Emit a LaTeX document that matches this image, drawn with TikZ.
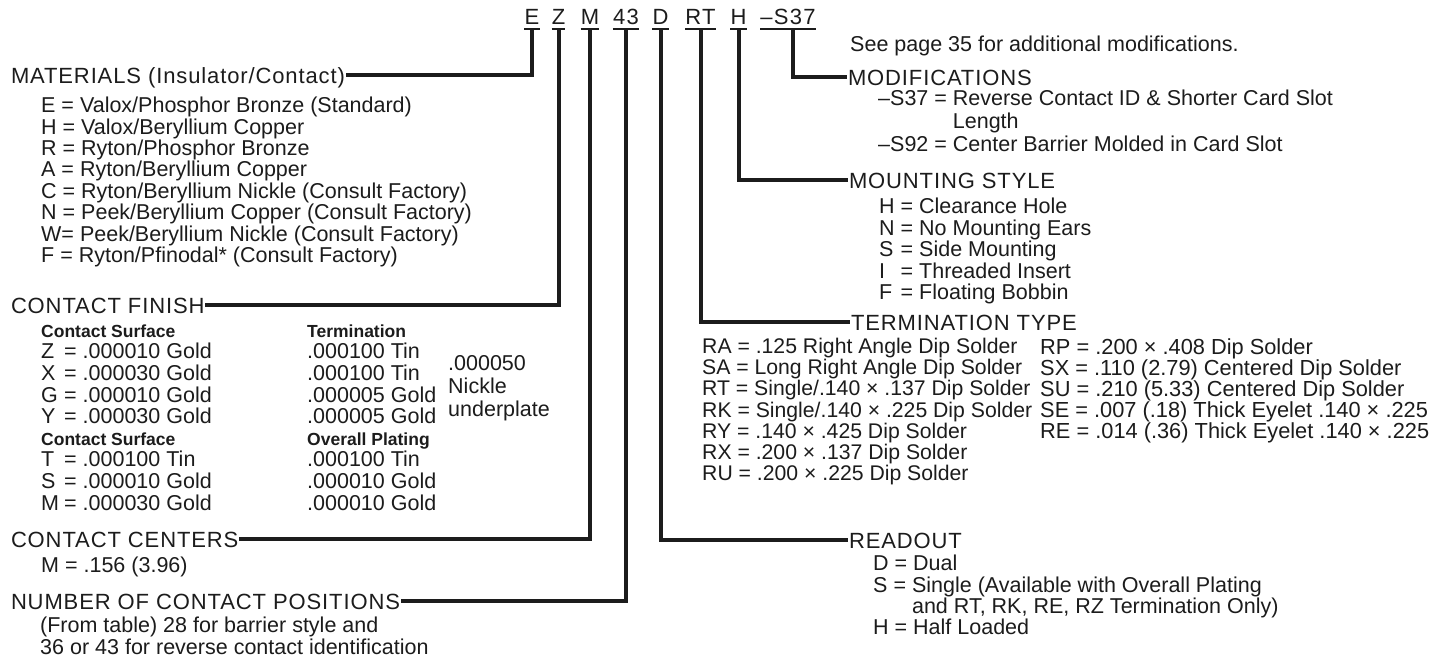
\documentclass[tikz,border=0pt]{standalone}
\usepackage{fontspec}
\setmainfont{Liberation Sans}
\usepackage{xcolor}
\usetikzlibrary{positioning}
\definecolor{ink}{HTML}{1C1C1C}
\newcommand{\codefont}{\fontsize{22}{22}\selectfont\addfontfeature{LetterSpace=6}}
\newcommand{\hdfont}{\fontsize{22}{22}\selectfont\addfontfeature{LetterSpace=4}}
\newcommand{\lsfont}{\fontsize{21.5}{21.4}\selectfont}
\newcommand{\subhd}[1]{{\fontsize{17.5}{21.6}\selectfont\bfseries #1}}
\newcommand{\ky}[2][17pt]{\makebox[#1][l]{#2}}

\begin{document}
\begin{tikzpicture}[x=1pt,y=-1pt,every node/.style={text=ink,inner sep=0pt},
   code/.style={font=\codefont,anchor=base,inner ysep=4pt,text height=15.5pt,text depth=0pt},
   head/.style={font=\hdfont,anchor=base west,text height=15.5pt,text depth=0pt,outer xsep=1pt},
   list/.style={font=\lsfont,align=left,anchor=north west},
   lead/.style={draw=ink,line width=4pt},
   uline/.style={draw=ink,line width=1.5pt}]
\useasboundingbox[fill=white] (0,0) rectangle (1443,661);
\node[code] (cE) at (532,25) {E};
\node[code] (cZ) at (558.5,25) {Z};
\node[code] (cM) at (590,25) {M};
\node[code] (c43) at (626,25) {43};
\node[code] (cD) at (660.5,25) {D};
\node[code] (cRT) at (700.5,25) {RT};
\node[code] (cH) at (738.5,25) {H};
\node[code] (cS) at (788,25) {--S37};
\foreach \n in {cE,cZ,cM,c43,cD,cRT,cH,cS} \draw[uline] (\n.south west) -- (\n.south east);
\node[font=\lsfont,anchor=base west] (see) at (850,52) {See page 35 for additional modifications.};
\node[head] (mat) at (10,83) {MATERIALS (Insulator/Contact)};
\node[head] (fin) at (10,313) {CONTACT FINISH};
\node[head] (ctr) at (10,547) {CONTACT CENTERS};
\node[head] (pos) at (10,609) {NUMBER OF CONTACT POSITIONS};
\node[head] (mod) at (847,85) {MODIFICATIONS};
\node[head] (mnt) at (848,188) {MOUNTING STYLE};
\node[head] (trm) at (850,330) {TERMINATION TYPE};
\node[head] (rdo) at (848,548) {READOUT};
\draw[lead] (cE.south) |- (mat.east);
\draw[lead] (cZ.south) |- (fin.east);
\draw[lead] (cM.south) |- (ctr.east);
\draw[lead] (c43.south) |- (pos.east);
\draw[lead] (cD.south) |- (rdo.west);
\draw[lead] (cRT.south) |- (trm.west);
\draw[lead] (cH.south) |- (mnt.west);
\draw[lead] ([xshift=5pt]cS.south) |- (mod.west);
\node[list] (matl) at (41,97) {E = Valox/Phosphor Bronze (Standard)\\ H = Valox/Beryllium Copper\\ R = Ryton/Phosphor Bronze\\ A = Ryton/Beryllium Copper\\ C = Ryton/Beryllium Nickle (Consult Factory)\\ N = Peek/Beryllium Copper (Consult Factory)\\ W= Peek/Beryllium Nickle (Consult Factory)\\ F = Ryton/Pfinodal* (Consult Factory)};
\node[list,font={\fontsize{21.5}{21.6}\selectfont}] (finl) at (41,324.5) {\subhd{Contact Surface}\\ \ky{Z} = .000010 Gold\\ \ky{X} = .000030 Gold\\ \ky{G} = .000010 Gold\\ \ky{Y} = .000030 Gold\\ \subhd{Contact Surface}\\ \ky{T} = .000100 Tin\\ \ky{S} = .000010 Gold\\ \ky{M} = .000030 Gold};
\node[list,font={\fontsize{21.5}{21.6}\selectfont}] (finr) at (307,324.5) {\subhd{Termination}\\ .000100 Tin\\ .000100 Tin\\ .000005 Gold\\ .000005 Gold\\ \subhd{Overall Plating}\\ .000100 Tin\\ .000010 Gold\\ .000010 Gold};
\node[list,font={\fontsize{21.5}{23}\selectfont}] (nick) at (448,355) {.000050\\ Nickle\\ underplate};
\node[list] (ctrl) at (41,557) {M = .156 (3.96)};
\node[list] (posl) at (40,617) {(From table) 28 for barrier style and\\ 36 or 43 for reverse contact identification};
\node[list,font={\fontsize{21.5}{23}\selectfont}] (modl) at (878,90) {--S37 = Reverse Contact ID \& Shorter Card Slot\\ \hphantom{--S37 = }Length\\ --S92 = Center Barrier Molded in Card Slot};
\node[list,font={\fontsize{21.5}{21.5}\selectfont}] (mntl) at (879,198) {\ky[15.5pt]{H} = Clearance Hole\\ \ky[15.5pt]{N} = No Mounting Ears\\ \ky[15.5pt]{S} = Side Mounting\\ \ky[15.5pt]{I} = Threaded Insert\\ \ky[15.5pt]{F} = Floating Bobbin};
\node[list,font={\fontsize{21.2}{21.2}\selectfont}] (trml) at (702,338) {RA = .125 Right Angle Dip Solder\\ SA = Long Right Angle Dip Solder\\ RT = Single/.140 × .137 Dip Solder\\ RK = Single/.140 × .225 Dip Solder\\ RY = .140 × .425 Dip Solder\\ RX = .200 × .137 Dip Solder\\ RU = .200 × .225 Dip Solder};
\node[list,font={\fontsize{21.8}{21.2}\selectfont}] (trmr) at (1040,338) {RP = .200 × .408 Dip Solder\\ SX = .110 (2.79) Centered Dip Solder\\ SU = .210 (5.33) Centered Dip Solder\\ SE = .007 (.18) Thick Eyelet .140 × .225\\ RE = .014 (.36) Thick Eyelet .140 × .225};
\node[list,font={\fontsize{21.5}{21.3}\selectfont}] (rdol) at (873,555) {D = Dual\\ S = Single (Available with Overall Plating\\ \hphantom{S = }and RT, RK, RE, RZ Termination Only)\\ H = Half Loaded};
\end{tikzpicture}
\end{document}
